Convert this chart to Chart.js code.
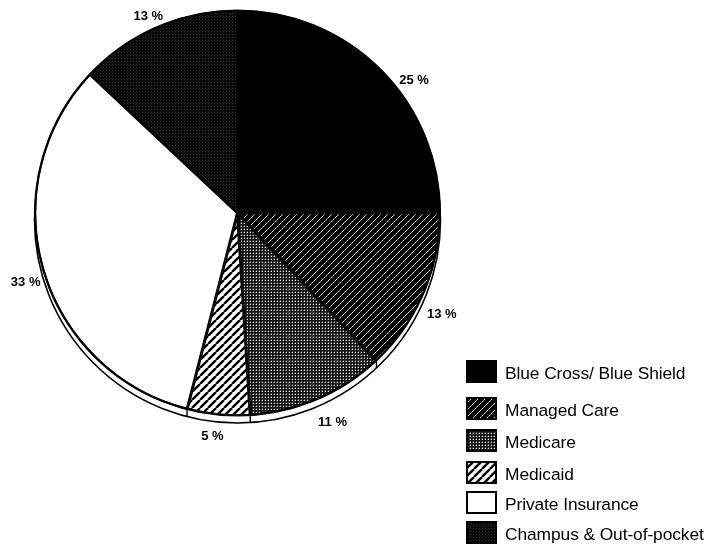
<!DOCTYPE html>
<html>
<head>
<meta charset="UTF-8">
<title>Payer mix</title>
<script src="https://cdn.jsdelivr.net/npm/chart.js"></script>
<style>
  body { margin: 0; background: #fff; }
  #wrap { position: relative; width: 711px; height: 548px; }
  #pie { position: absolute; left: 0; top: 0; }
  .key { position: absolute; left: 466px; height: 24px; display: flex; align-items: center; }
  .key canvas { display: block; margin-right: 8px; }
  .key span { font-family: 'Liberation Sans', Arial, sans-serif; font-size: 17.4px; color: #000; white-space: nowrap; padding-top: 5px; letter-spacing: -0.1px; }
</style>
</head>
<body>
<div id="wrap">
  <canvas id="pie" width="711" height="548"></canvas>
</div>
<script>
// payer categories and share of patients (%)
const categories = ['Blue Cross/ Blue Shield', 'Managed Care', 'Medicare', 'Medicaid', 'Private Insurance', 'Champus & Out-of-pocket'];
const shares = [25, 13, 11, 5, 33, 13];
const shareLabels = ['25 %', '13 %', '11 %', '5 %', '33 %', '13 %'];

// label placement tweaks (degrees added to the slice mid-angle, distance from centre)
const labelNudge = [8, 3, -1, 1, -2, -1];
const labelDist = [221, 228, 230, 225, 223, 216];
// legend row tops
const keyTops = [359, 396, 428, 460, 490, 520];

function tile(w, h, draw) {
  const c = document.createElement('canvas');
  c.width = w; c.height = h;
  draw(c.getContext('2d'), w, h);
  return c;
}

function solid(g, w, h) { g.fillStyle = '#000'; g.fillRect(0, 0, w, h); }

function managed(g, w, h) {
  g.fillStyle = '#000'; g.fillRect(0, 0, w, h);
  for (let i = 0; i < w; i++) {
    g.fillStyle = i % 2 ? '#9a9a9a' : '#f2f2f2';
    g.fillRect(w - 1 - i, i, 1, 1);
  }
}

function medicare(g, w, h) {
  g.fillStyle = '#151515'; g.fillRect(0, 0, w, h);
  g.fillStyle = '#e0e0e0'; g.fillRect(1, 1, 1, 1);
  g.fillStyle = '#555'; g.fillRect(0, 1, 1, 1); g.fillRect(1, 0, 1, 1);
}

function medicaid(g, w, h) {
  g.fillStyle = '#fff'; g.fillRect(0, 0, w, h);
  g.strokeStyle = '#000'; g.lineWidth = 2.4;
  [-w, 0, w].forEach(function (o) {
    g.beginPath(); g.moveTo(o, h); g.lineTo(o + w, 0); g.stroke();
  });
}

function privateIns(g, w, h) { g.fillStyle = '#fff'; g.fillRect(0, 0, w, h); }

function champus(g, w, h) {
  g.fillStyle = '#0c0c0c'; g.fillRect(0, 0, w, h);
  g.fillStyle = '#2c2c2c'; g.fillRect(1, 1, 1, 1);
}

const painters = [[solid, 4], [managed, 7], [medicare, 3], [medicaid, 8], [privateIns, 4], [champus, 3]];
const ctx = document.getElementById('pie').getContext('2d');
const fills = painters.map(function (p) {
  return ctx.createPattern(tile(p[1], p[1], p[0]), 'repeat');
});

// thin "rim" under the pie, like the tilted base of the original
const rimPlugin = {
  id: 'rim',
  beforeDatasetsDraw(chart) {
    const a = chart.getDatasetMeta(0).data[0];
    const g = chart.ctx;
    g.save();
    g.beginPath();
    g.arc(a.x, a.y + 7, a.outerRadius, 0, Math.PI * 2);
    g.fillStyle = '#fff'; g.fill();
    g.lineWidth = 1.6; g.strokeStyle = '#000'; g.stroke();
    g.restore();
  },
  afterDatasetsDraw(chart) {
    const meta = chart.getDatasetMeta(0);
    const g = chart.ctx;
    g.save();
    // outer outline a bit heavier, as in the print
    const a0 = meta.data[0];
    g.beginPath();
    g.arc(a0.x, a0.y, a0.outerRadius - 0.5, 0, Math.PI * 2);
    g.strokeStyle = '#000'; g.lineWidth = 2; g.stroke();
    g.lineWidth = 1.4;
    meta.data.forEach(function (a) {
      const ang = a.startAngle;
      if (Math.sin(ang) > 0.3) {
        const px = a.x + a.outerRadius * Math.cos(ang);
        const py = a.y + a.outerRadius * Math.sin(ang);
        g.beginPath(); g.moveTo(px, py); g.lineTo(px, py + 7); g.stroke();
      }
    });
    // percent labels
    g.fillStyle = '#000';
    g.font = 'bold 13px "Liberation Sans", Arial, sans-serif';
    g.textAlign = 'center'; g.textBaseline = 'middle';
    meta.data.forEach(function (a, i) {
      const mid = (a.startAngle + a.endAngle) / 2 + labelNudge[i] * Math.PI / 180;
      g.fillText(shareLabels[i], a.x + labelDist[i] * Math.cos(mid), a.y + labelDist[i] * Math.sin(mid));
    });
    g.restore();
  }
};

new Chart(ctx, {
  type: 'pie',
  data: {
    labels: categories,
    datasets: [{
      data: shares,
      backgroundColor: fills,
      borderColor: '#000',
      borderWidth: 1.5,
      borderAlign: 'inner'
    }]
  },
  options: {
    responsive: false,
    animation: false,
    radius: 203,
    layout: { padding: { left: 34, right: 270, top: 10, bottom: 132 } },
    plugins: { legend: { display: false }, tooltip: { enabled: false } }
  },
  plugins: [rimPlugin]
});

// legend
const wrap = document.getElementById('wrap');
categories.forEach(function (name, i) {
  const row = document.createElement('div');
  row.className = 'key';
  row.style.top = keyTops[i] + 'px';
  const sw = document.createElement('canvas');
  sw.width = 31; sw.height = 23;
  const g = sw.getContext('2d');
  g.fillStyle = g.createPattern(tile(painters[i][1], painters[i][1], painters[i][0]), 'repeat');
  g.fillRect(0, 0, 31, 23);
  g.strokeStyle = '#000'; g.lineWidth = 2;
  g.strokeRect(1, 1, 29, 21);
  const t = document.createElement('span');
  t.textContent = name;
  row.appendChild(sw); row.appendChild(t);
  wrap.appendChild(row);
});
</script>
</body>
</html>
